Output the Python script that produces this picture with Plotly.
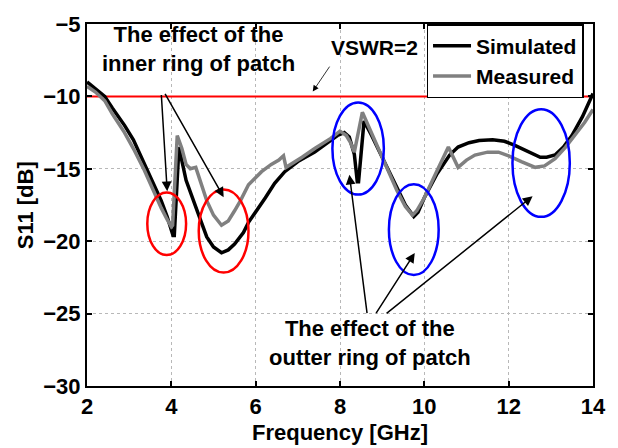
import plotly.graph_objects as go

freq_sim = [2.0, 2.2, 2.42, 2.6, 2.89, 3.1, 3.36, 3.55, 3.76, 3.9, 4.04, 4.07, 4.18,
            4.35, 4.54, 4.7, 4.84, 5.0, 5.19, 5.35, 5.5, 5.71, 5.83, 6.0, 6.23, 6.45,
            6.69, 7.0, 7.4, 7.7, 7.94, 8.1, 8.22, 8.34, 8.41, 8.44, 8.57, 8.75, 8.95,
            9.15, 9.35, 9.55, 9.75, 9.85, 10.0, 10.29, 10.6, 10.8, 11.06, 11.3, 11.62,
            11.9, 12.16, 12.5, 12.75, 12.9, 13.1, 13.3, 13.5, 13.75, 14.0]
s11_sim = [-9.0, -9.5, -10.0, -10.8, -12.0, -13.0, -14.7, -15.9, -17.2, -18.3, -19.6, -19.6, -13.5,
           -15.8, -17.4, -18.6, -19.7, -20.4, -20.8, -20.6, -20.2, -19.4, -18.7, -18.0, -17.0, -16.0,
           -15.2, -14.5, -13.85, -13.2, -12.7, -12.5, -12.8, -14.0, -15.9, -15.9, -11.7, -12.7, -13.85,
           -15.1, -16.3, -17.5, -18.3, -18.0, -17.0, -15.4, -14.05, -13.5, -13.2, -13.05, -13.0,
           -13.1, -13.4, -13.9, -14.2, -14.2, -14.05, -13.5, -12.7, -11.4, -9.8]

freq_meas = [2.0, 2.2, 2.42, 2.6, 2.89, 3.1, 3.36, 3.55, 3.76, 3.9, 4.0, 4.03, 4.14,
             4.25, 4.35, 4.45, 4.58, 4.84, 5.0, 5.19, 5.35, 5.5, 5.64, 5.83, 6.14, 6.37,
             6.55, 6.62, 6.66, 6.72, 6.9, 7.1, 7.4, 7.78, 8.0, 8.15, 8.25, 8.34, 8.53,
             8.7, 8.95, 9.15, 9.35, 9.55, 9.72, 9.82, 10.0, 10.29, 10.45, 10.57, 10.8,
             11.0, 11.2, 11.5, 11.76, 12.0, 12.3, 12.63, 12.85, 13.1, 13.35, 13.57, 13.8, 14.0]
s11_meas = [-9.3, -9.7, -10.3, -11.2, -12.5, -13.6, -15.1, -16.4, -17.7, -18.5, -19.0, -18.9, -12.7,
            -13.6, -14.7, -15.0, -14.9, -17.2, -18.2, -18.9, -18.6, -17.9, -17.2, -16.1, -15.2, -14.7,
            -14.4, -14.2, -14.1, -14.9, -14.6, -14.2, -13.6, -12.9, -12.4, -12.7, -13.2, -13.85, -11.1,
            -12.2, -13.85, -15.1, -16.5, -17.6, -18.2, -17.9, -17.0, -15.2, -14.2, -13.5, -14.9,
            -14.4, -14.05, -13.85, -13.85, -14.1, -14.5, -14.9, -14.8, -14.3, -13.5, -12.7, -11.8, -10.9]

vswr_level = -10
x_ticks = [2, 4, 6, 8, 10, 12, 14]
y_ticks = [-30, -25, -20, -15, -10, -5]

# highlighted regions: (center freq, center dB, half-width GHz, half-height dB)
inner_marks = [(3.89, -18.8, 0.46, 2.16), (5.24, -19.3, 0.59, 2.87)]
outer_marks = [(8.43, -13.6, 0.61, 3.18), (9.75, -19.2, 0.59, 3.14), (12.77, -14.6, 0.68, 3.72)]

FONT = "Liberation Sans, Arial, sans-serif"

fig = go.Figure()
fig.add_trace(go.Scatter(x=[2, 14], y=[vswr_level, vswr_level], mode="lines",
                         line=dict(color="#ff0000", width=2), showlegend=False))
fig.add_trace(go.Scatter(x=freq_sim, y=s11_sim, mode="lines", name="Simulated",
                         line=dict(color="black", width=3.5)))
fig.add_trace(go.Scatter(x=freq_meas, y=s11_meas, mode="lines", name="Measured",
                         line=dict(color="#808080", width=3.5)))

shapes = []
for (cx, cy, rx, ry) in inner_marks:
    shapes.append(dict(type="circle", xref="x", yref="y", x0=cx - rx, x1=cx + rx,
                       y0=cy - ry, y1=cy + ry, line=dict(color="#ff0000", width=2.5)))
for (cx, cy, rx, ry) in outer_marks:
    shapes.append(dict(type="circle", xref="x", yref="y", x0=cx - rx, x1=cx + rx,
                       y0=cy - ry, y1=cy + ry, line=dict(color="#0000ff", width=2.5)))

annotations = []
bold = dict(family=FONT, size=22, color="black", weight="bold")
annotations.append(dict(x=4.65, y=-6.76, xref="x", yref="y", showarrow=False,
                        text="The effect of the<br>inner ring of patch", font=bold,
                        align="center"))
annotations.append(dict(x=8.71, y=-27.05, xref="x", yref="y", showarrow=False,
                        text="The effect of the<br>outter ring of patch", font=bold,
                        align="center"))
annotations.append(dict(x=8.81, y=-6.6, xref="x", yref="y", showarrow=False,
                        text="VSWR=2", font=dict(family=FONT, size=21, color="black", weight="bold")))

arrows = [
    ((3.761, -9.80), (3.902, -16.55)),
    ((3.832, -9.73), (5.241, -16.96)),
    ((8.646, -25.07), (8.223, -15.41)),
    ((8.834, -25.07), (9.773, -20.81)),
    ((9.069, -25.07), (12.567, -16.89)),
]
for (tail, head) in arrows:
    annotations.append(dict(x=head[0], y=head[1], ax=tail[0], ay=tail[1], xref="x", yref="y",
                            axref="x", ayref="y", showarrow=True, arrowhead=2, arrowsize=1.3,
                            arrowwidth=1.5, arrowcolor="black", text=""))
annotations.append(dict(x=7.354, y=-9.66, ax=7.777, ay=-7.84, xref="x", yref="y",
                        axref="x", ayref="y", showarrow=True, arrowhead=2, arrowsize=1.5,
                        arrowwidth=0.8, arrowcolor="black", text=""))

annotations.append(dict(x=0.5, y=-0.168, xref="paper", yref="paper", showarrow=False,
                        text="Frequency [GHz]",
                        font=dict(family=FONT, size=22, color="black", weight="bold")))
annotations.append(dict(x=-0.122, y=0.5, xref="paper", yref="paper", showarrow=False,
                        xanchor="center", text="S11 [dB]", textangle=-90,
                        font=dict(family=FONT, size=22, color="black", weight="bold")))

axis_common = dict(showline=True, linecolor="black", linewidth=2, mirror="ticks",
                   ticks="inside", ticklen=5, tickwidth=1.5, tickcolor="black",
                   showgrid=True, gridcolor="#b8b8b8", griddash="dot", gridwidth=1,
                   zeroline=False,
                   tickfont=dict(family=FONT, size=22, color="black", weight="bold"))

fig.update_layout(
    width=618, height=448,
    margin=dict(l=87, r=20, t=16, b=62),
    plot_bgcolor="white", paper_bgcolor="white",
    xaxis=dict(range=[2, 14], tickvals=x_ticks, **axis_common),
    yaxis=dict(range=[-30, -5], tickvals=y_ticks, **axis_common),
    legend=dict(x=0.671, y=1.0, xanchor="left", yanchor="top",
                bordercolor="black", borderwidth=1.5, bgcolor="white",
                font=dict(family=FONT, size=21, color="black", weight="bold"),
                tracegroupgap=0, itemwidth=38),
    shapes=shapes, annotations=annotations,
)

fig.write_html("out.html")
